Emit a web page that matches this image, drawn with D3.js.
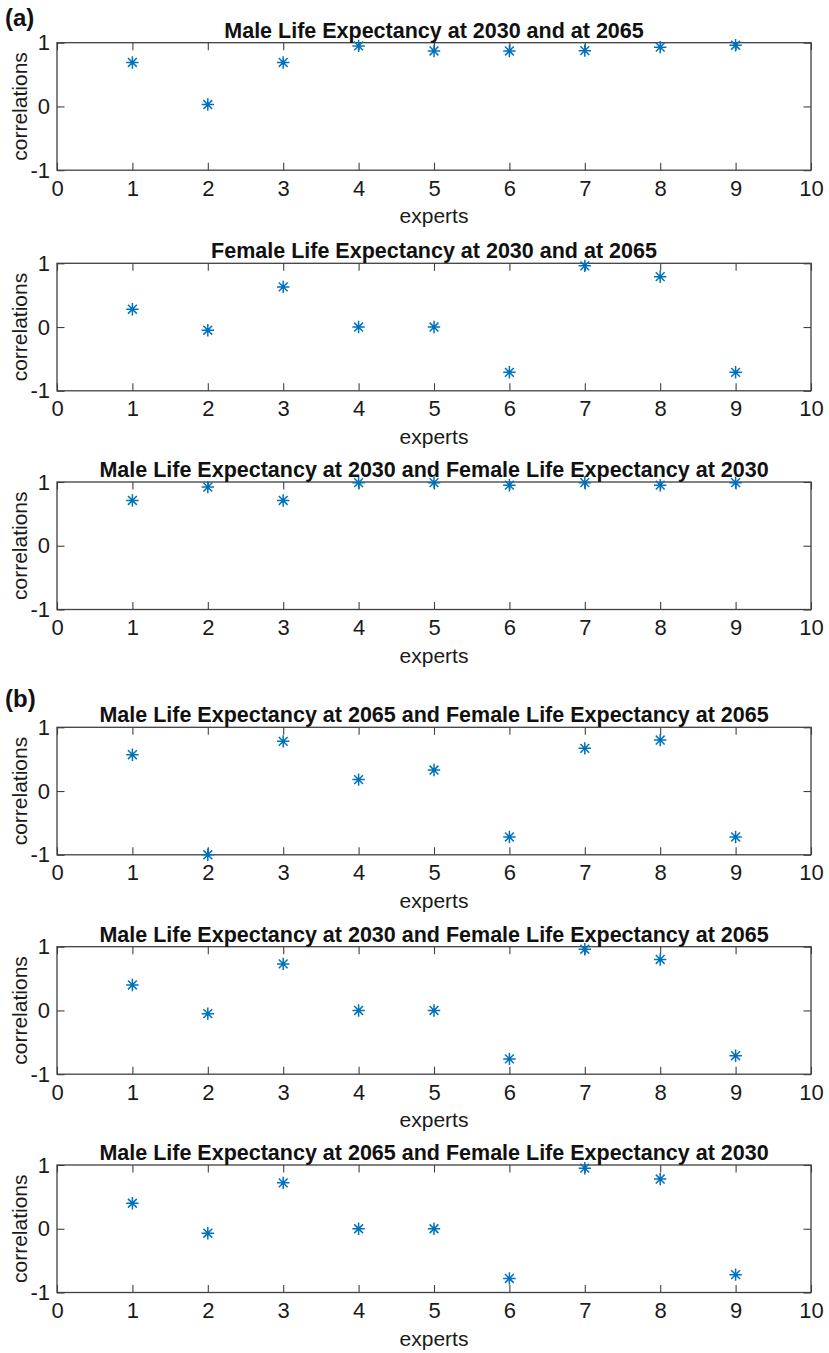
<!DOCTYPE html>
<html lang="en">
<head>
<meta charset="UTF-8">
<title>Expert correlations</title>
<script src="https://d3js.org/d3.v7.min.js"></script>
<style>
    body { margin: 0; background: #fff; font-family: "Liberation Sans", Arial, Helvetica, sans-serif; }
    .tick text { fill: #1a1a1a; }
</style>
</head>
<body>
<div id="chart"></div>
<script>
// experts 1..9
var experts = [1, 2, 3, 4, 5, 6, 7, 8, 9];
var xTicks = [0, 1, 2, 3, 4, 5, 6, 7, 8, 9, 10];
var yTicks = [-1, 0, 1];

var titles = [
    "Male Life Expectancy at 2030 and at 2065",
    "Female Life Expectancy at 2030 and at 2065",
    "Male Life Expectancy at 2030 and Female Life Expectancy at 2030",
    "Male Life Expectancy at 2065 and Female Life Expectancy at 2065",
    "Male Life Expectancy at 2030 and Female Life Expectancy at 2065",
    "Male Life Expectancy at 2065 and Female Life Expectancy at 2030"
];

var maleA = [0.69, 0.03, 0.69, 0.95, 0.87, 0.87, 0.875, 0.93, 0.96];
var femaleA = [0.28, -0.05, 0.63, 0.0, 0.0, -0.71, 0.96, 0.79, -0.71];
var male30Female30 = [0.71, 0.92, 0.71, 0.99, 0.99, 0.95, 0.99, 0.95, 0.99];
var male65Female65 = [0.57, -1.0, 0.78, 0.18, 0.33, -0.72, 0.67, 0.8, -0.72];
var male30Female65 = [0.40, -0.05, 0.73, 0.0, 0.0, -0.76, 0.96, 0.80, -0.71];
var male65Female30 = [0.40, -0.07, 0.72, 0.0, 0.0, -0.78, 0.95, 0.78, -0.72];

var series = [maleA, femaleA, male30Female30, male65Female65, male30Female65, male65Female30];

var width = 829, height = 1353;
var left = 57, right = 811, boxH = 127.5;
var panelTops = [42.7, 263.3, 482, 727.3, 946.7, 1165];
var blue = "#0072BD";
var lineColor = "#404040";

var svg = d3.select("#chart").append("svg")
    .attr("width", width)
    .attr("height", height);

var x = d3.scaleLinear().domain([0, 10]).range([left, right]);
var y = d3.scaleLinear().domain([-1, 1]).range([boxH, 0]);

// matlab style: plain hyphen, no decimals
var plain = function(d) { return String(d); };

var star = "M-6.2,0L6.2,0M0,-6.2L0,6.2M-4.4,-4.4L4.4,4.4M-4.4,4.4L4.4,-4.4";

series.forEach(function(vals, i) {
    var g = svg.append("g").attr("transform", "translate(0," + panelTops[i] + ")");

    var bottomAxis = d3.axisBottom(x).tickValues(xTicks).tickFormat(plain).tickSizeInner(-7.5).tickSizeOuter(0).tickPadding(10);
    var topAxis = d3.axisTop(x).tickValues(xTicks).tickSizeInner(-7.5).tickSizeOuter(0).tickFormat("");
    var leftAxis = d3.axisLeft(y).tickValues(yTicks).tickFormat(plain).tickSizeInner(-7.5).tickSizeOuter(0).tickPadding(7);
    var rightAxis = d3.axisRight(y).tickValues(yTicks).tickSizeInner(-7.5).tickSizeOuter(0).tickFormat("");

    g.append("g").attr("transform", "translate(0," + boxH + ")").call(bottomAxis);
    g.append("g").call(topAxis);
    g.append("g").attr("transform", "translate(" + left + ",0)").call(leftAxis);
    g.append("g").attr("transform", "translate(" + right + ",0)").call(rightAxis);

    g.selectAll(".domain").remove();
    g.selectAll(".tick line").attr("stroke", lineColor).attr("stroke-width", 1.1);
    g.selectAll(".tick text")
        .style("font-family", "'Liberation Sans', Arial, sans-serif")
        .style("font-size", "22px");

    g.append("rect")
        .attr("x", left).attr("y", 0)
        .attr("width", right - left).attr("height", boxH)
        .attr("fill", "none")
        .attr("stroke", lineColor)
        .attr("stroke-width", 1.3);

    g.selectAll(".star")
        .data(vals)
        .enter().append("path")
        .attr("class", "star")
        .attr("d", star)
        .attr("transform", function(d, j) { return "translate(" + x(experts[j]) + "," + y(d) + ")"; })
        .attr("fill", "none")
        .attr("stroke", blue)
        .attr("stroke-width", 1.5);

    g.append("text")
        .attr("x", (left + right) / 2)
        .attr("y", -5)
        .attr("text-anchor", "middle")
        .style("font-size", "21.5px")
        .style("font-weight", "bold")
        .style("fill", "#111")
        .text(titles[i]);

    g.append("text")
        .attr("x", (left + right) / 2)
        .attr("y", boxH + 53)
        .attr("text-anchor", "middle")
        .style("font-size", "21px")
        .style("fill", "#1a1a1a")
        .text("experts");

    g.append("text")
        .attr("transform", "translate(27," + (boxH / 2) + ") rotate(-90)")
        .attr("text-anchor", "middle")
        .style("font-size", "21px")
        .style("fill", "#1a1a1a")
        .text("correlations");
});

// panel group labels
svg.append("text").attr("x", 5).attr("y", 26)
    .style("font-size", "24px").style("font-weight", "bold").style("fill", "#111")
    .text("(a)");
svg.append("text").attr("x", 5).attr("y", 707)
    .style("font-size", "24px").style("font-weight", "bold").style("fill", "#111")
    .text("(b)");
</script>
</body>
</html>
